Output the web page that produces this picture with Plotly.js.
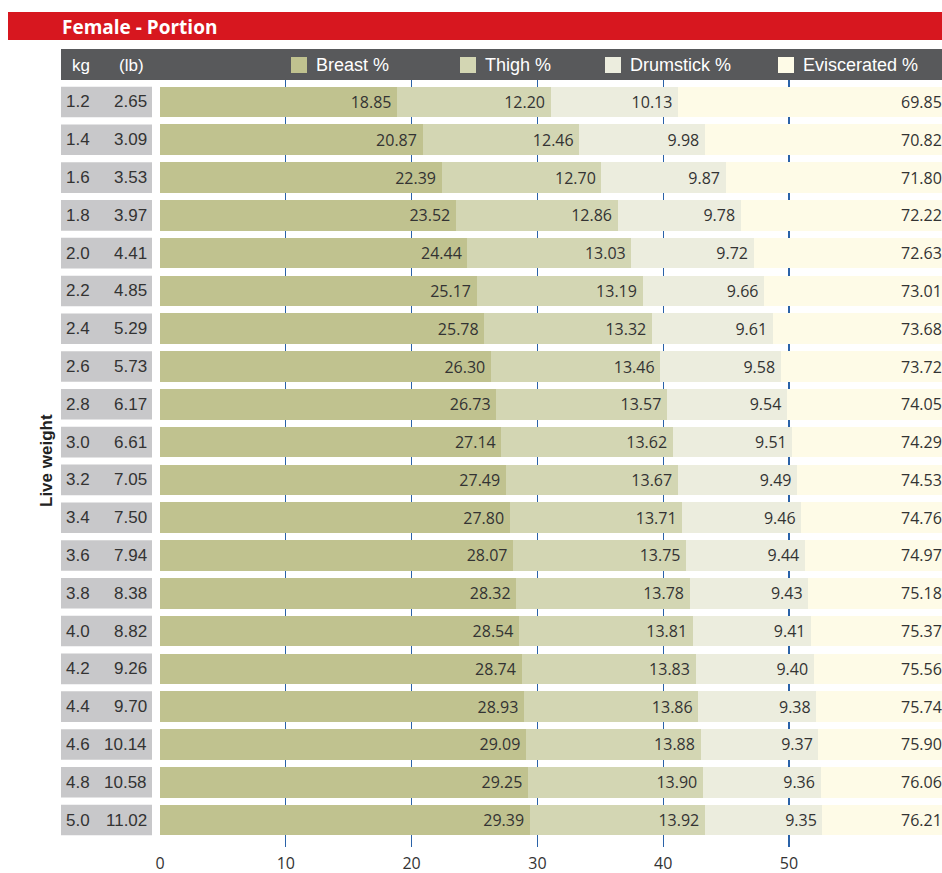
<!DOCTYPE html>
<html>
<head>
<meta charset="utf-8">
<script src="https://cdn.plot.ly/plotly-3.0.1.min.js"></script>
<style>html,body{margin:0;padding:0;background:#fff;}#chart{width:942px;height:873px;}</style>
</head>
<body>
<div id="chart"></div>
<script>
// ---- data ----
const kg = ['1.2','1.4','1.6','1.8','2.0','2.2','2.4','2.6','2.8','3.0','3.2','3.4','3.6','3.8','4.0','4.2','4.4','4.6','4.8','5.0'];
const lb = ['2.65','3.09','3.53','3.97','4.41','4.85','5.29','5.73','6.17','6.61','7.05','7.50','7.94','8.38','8.82','9.26','9.70','10.14','10.58','11.02'];
const breast = [18.85,20.87,22.39,23.52,24.44,25.17,25.78,26.30,26.73,27.14,27.49,27.80,28.07,28.32,28.54,28.74,28.93,29.09,29.25,29.39];
const thigh = [12.20,12.46,12.70,12.86,13.03,13.19,13.32,13.46,13.57,13.62,13.67,13.71,13.75,13.78,13.81,13.83,13.86,13.88,13.90,13.92];
const drumstick = [10.13,9.98,9.87,9.78,9.72,9.66,9.61,9.58,9.54,9.51,9.49,9.46,9.44,9.43,9.41,9.40,9.38,9.37,9.36,9.35];
const eviscerated = [69.85,70.82,71.80,72.22,72.63,73.01,73.68,73.72,74.05,74.29,74.53,74.76,74.97,75.18,75.37,75.56,75.74,75.90,76.06,76.21];
const seriesNames = ['Breast %','Thigh %','Drumstick %','Eviscerated %'];
const xTicks = [0,10,20,30,40,50];
const headerLabels = ['kg','(lb)'];
const titleText = 'Female - Portion';
const axisTitle = 'Live weight';

// ---- style ----
const colors = ['#c0c28f','#d3d6b3','#ecedde','#fefbe7'];
const W = 942, H = 873;
const L = 160, R = 0, T = 80, B = 26;
const pw = W - L - R, ph = H - T - B;
const px2x = p => (p - L) / pw;
const py2y = p => (H - B - p) / ph;
const numFont = 'Open Sans, Noto Sans, sans-serif';
const helv = 'Liberation Sans, Arial, sans-serif';
const half = 0.405;
const pad = '\u2009';

const series = [breast, thigh, drumstick, eviscerated];
const traces = series.map((vals, k) => ({
  type: 'bar', orientation: 'h', name: seriesNames[k],
  x: vals, y: kg,
  marker: {color: colors[k], line: {width: 0}},
  text: k < 3 ? vals.map(v => v.toFixed(2) + pad) : null,
  textposition: k < 3 ? 'inside' : 'none',
  insidetextanchor: 'end',
  textangle: 0,
  constraintext: 'none',
  insidetextfont: {family: numFont, size: 16, color: '#333333'},
  hoverinfo: 'x+name'
}));

const shapes = [];
const annotations = [];
// red title bar
shapes.push({type:'rect', xref:'paper', yref:'paper', x0:px2x(8), x1:1, y0:py2y(40), y1:py2y(12), fillcolor:'#d7171f', line:{width:0}, layer:'below'});
// dark header band
shapes.push({type:'rect', xref:'paper', yref:'paper', x0:px2x(61), x1:1, y0:py2y(80), y1:py2y(49), fillcolor:'#58595b', line:{width:0}, layer:'below'});
// header labels
const headerX = [70, 117];
headerLabels.forEach((t, i) => annotations.push({xref:'paper', yref:'paper', x:px2x(headerX[i]), y:py2y(65), xanchor:'left', yanchor:'middle', text:t, showarrow:false, font:{family:helv, size:17, color:'#ffffff'}}));
// legend (manual)
const legX = [291, 460, 605, 778];
seriesNames.forEach((n, k) => {
  shapes.push({type:'rect', xref:'paper', yref:'paper', x0:px2x(legX[k]), x1:px2x(legX[k]+16), y0:py2y(73), y1:py2y(57), fillcolor:colors[k], line:{width:0}});
  annotations.push({xref:'paper', yref:'paper', x:px2x(legX[k]+23), y:py2y(65), xanchor:'left', yanchor:'middle', text:n, showarrow:false, font:{family:helv, size:18, color:'#ffffff'}});
});
// row label boxes + texts, eviscerated labels (category index i)
kg.forEach((k, i) => {
  shapes.push({type:'rect', xref:'paper', yref:'y', x0:px2x(61), x1:px2x(152), y0:i-half, y1:i+half, fillcolor:'#c8c8ca', line:{width:0}});
  annotations.push({xref:'paper', yref:'y', x:px2x(64), y:i, xanchor:'left', yanchor:'middle', text:k, showarrow:false, font:{family:helv, size:17, color:'#333333'}});
  annotations.push({xref:'paper', yref:'y', x:px2x(149), y:i, xanchor:'right', yanchor:'middle', text:lb[i], showarrow:false, font:{family:helv, size:17, color:'#333333'}});
  annotations.push({xref:'paper', yref:'y', x:1, y:i, xanchor:'right', yanchor:'middle', xshift:2, text:eviscerated[i].toFixed(2), showarrow:false, font:{family:numFont, size:16, color:'#333333'}});
});
// axis title
annotations.push({xref:'paper', yref:'paper', x:px2x(46), y:py2y(460), xanchor:'center', yanchor:'middle', text:axisTitle, textangle:-90, showarrow:false, font:{family:helv, size:17, color:'#222222', weight:'bold'}});

const layout = {
  width: W, height: H,
  margin: {l:L, r:R, t:T, b:B, pad:0},
  paper_bgcolor:'#ffffff', plot_bgcolor:'#ffffff',
  barmode: 'stack', bargap: 0.19,
  showlegend: false,
  title: {text: titleText, xref:'container', yref:'container', x: 62/W, xanchor:'left', y: 1 - 27/H, yanchor:'middle',
          font:{family:'Open Sans, Noto Sans, sans-serif', size:19, color:'#ffffff', weight:'bold'}},
  xaxis: {range:[0, pw/12.58], tickvals:xTicks, ticktext:xTicks.map(String), showgrid:true, gridcolor:'#2a62a8', gridwidth:1.3,
          zeroline:true, zerolinecolor:'rgba(0,0,0,0)', showline:false, ticks:'outside', ticklen:2, tickcolor:'rgba(0,0,0,0)',
          tickfont:{family:numFont, size:16, color:'#333333'}, fixedrange:true},
  yaxis: {type:'category', categoryorder:'array', categoryarray:kg, range:[19.714, -0.582], showticklabels:false,
          showgrid:false, zeroline:false, showline:false, ticks:'', fixedrange:true},
  shapes: shapes, annotations: annotations
};
Plotly.newPlot('chart', traces, layout, {displayModeBar:false, staticPlot:true});
</script>
</body>
</html>
